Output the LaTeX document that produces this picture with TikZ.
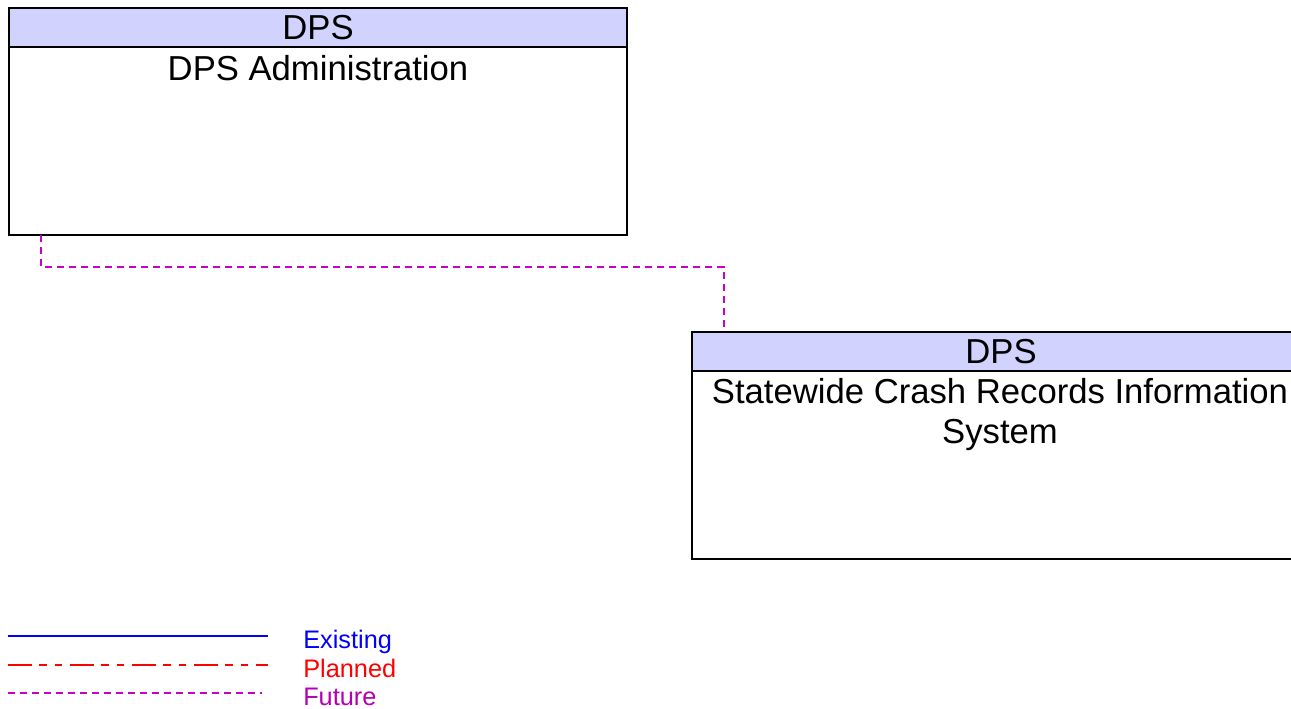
\documentclass[tikz,border=0pt]{standalone}
\usepackage{fontspec}
\setmainfont{Liberation Sans}
\definecolor{hdr}{RGB}{210,210,255}
\definecolor{fut}{RGB}{200,0,200}
\definecolor{futtext}{RGB}{180,0,180}
\begin{document}
\begin{tikzpicture}[x=0.75pt,y=-0.75pt,
  header/.style={draw=black,line width=0.8pt,fill=hdr,anchor=north west,minimum width=463.5pt,minimum height=29.25pt,inner sep=0pt,outer sep=0pt},
  body/.style={draw=black,line width=0.8pt,fill=white,anchor=north west,minimum width=463.5pt,minimum height=141pt,inner sep=0pt,outer sep=0pt},
  label/.style={font=\fontsize{26}{30}\selectfont,anchor=base,align=center,inner sep=0pt},
  future/.style={draw=fut,line width=0.8pt,dash pattern=on 5.5pt off 3.5pt},
  planned/.style={draw=red,line width=0.9pt,dash pattern=on 18pt off 5.5pt on 5.5pt off 6pt on 5.5pt off 6pt},
  existing/.style={draw=blue,line width=1.3pt},
  legtext/.style={font=\fontsize{19}{22}\selectfont,anchor=base west,inner sep=0pt}
]
\useasboundingbox (0,0) rectangle (1291,708);
% box 1
\node[body] (b1) at (9,47) {};
\node[header] (h1) at (9,8) {};
\node[label] (t1h) at (318,39) {DPS};
\node[label] (t1) at (318,80) {DPS Administration};
% box 2
\node[body] (b2) at (692,371) {};
\node[header] (h2) at (692,332) {};
\node[label] (t2h) at (1001,363) {DPS};
\node[label] (t2) at (1000,443) {Statewide Crash Records Information\\System};
% connector
\draw[future] ([xshift=24pt]b1.south west) -- ++(0,32) -| ([xshift=24pt]h2.north west);
% legend
\coordinate (e1) at (8,636); \coordinate (e2) at (268,636);
\coordinate (p1) at (8,665); \coordinate (p2) at (268,665);
\coordinate (f1) at (8,693); \coordinate (f2) at (262,693);
\draw[existing] (e1) -- (e2);
\draw[planned] (p1) -- (p2);
\draw[future] (f1) -- (f2);
\node[legtext,text=blue] (le) at (303,648) {Existing};
\node[legtext,text=red] (lp) at (303,677) {Planned};
\node[legtext,text=futtext] (lf) at (303,705) {Future};
\end{tikzpicture}
\end{document}
